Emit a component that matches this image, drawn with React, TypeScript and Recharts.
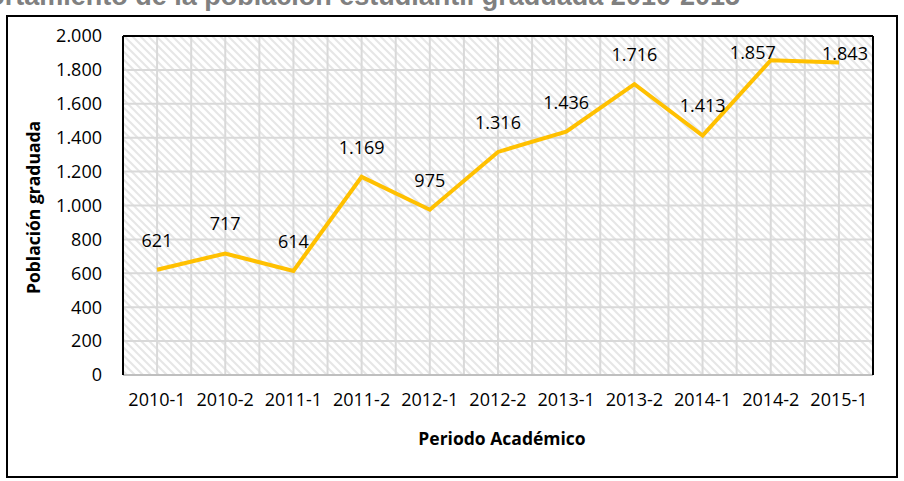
import { CartesianGrid, Line, LineChart, XAxis, YAxis } from "recharts";

const periods = [
  "2010-1",
  "2010-2",
  "2011-1",
  "2011-2",
  "2012-1",
  "2012-2",
  "2013-1",
  "2013-2",
  "2014-1",
  "2014-2",
  "2015-1",
];
const graduates = [621, 717, 614, 1169, 975, 1316, 1436, 1716, 1413, 1857, 1843];
const yTicks = [0, 200, 400, 600, 800, 1000, 1200, 1400, 1600, 1800, 2000];

const data = periods.map((period, i) => ({ period, graduates: graduates[i] }));

const FONT = "'Open Sans', sans-serif";

// 1169 -> "1.169"
const fmt = (v: number) => String(v).replace(/\B(?=(\d{3})+(?!\d))/g, ".");

// labels sit above the points; the two last ones are nudged like in the source
const labelShift: Record<number, { dx: number; dy: number }> = {
  9: { dx: -18, dy: -8 },
  10: { dx: 6, dy: -10 },
};

function PointLabel(props: any) {
  const { x, y, value, index } = props;
  const shift = labelShift[index] ?? { dx: 0, dy: -30 };
  return (
    <text
      x={x + shift.dx}
      y={y + shift.dy}
      textAnchor="middle"
      dominantBaseline="central"
      fontFamily={FONT}
      fontSize={18}
      fill="#000"
    >
      {fmt(value)}
    </text>
  );
}

function YTitle(props: any) {
  const { x, y, height } = props.viewBox;
  const cx = x + 33;
  const cy = y + height / 2 + 2;
  return (
    <text
      x={cx}
      y={cy}
      transform={`rotate(-90, ${cx}, ${cy})`}
      textAnchor="middle"
      dominantBaseline="central"
      fontFamily={FONT}
      fontWeight="bold"
      fontSize={17.5}
      fill="#000"
    >
      Población graduada
    </text>
  );
}

function XTitle(props: any) {
  const { x, y, width } = props.viewBox;
  return (
    <text
      x={x + width / 2 + 4}
      y={y + 63}
      textAnchor="middle"
      dominantBaseline="central"
      fontFamily={FONT}
      fontWeight="bold"
      fontSize={17.5}
      fill="#000"
    >
      Periodo Académico
    </text>
  );
}

export default function App() {
  const tickStyle = { fontFamily: FONT, fontSize: 18, fill: "#000" };

  return (
    <div
      style={{
        position: "absolute",
        left: 0,
        top: 0,
        width: 904,
        height: 481,
        overflow: "hidden",
        background: "#fff",
      }}
    >
      <svg
        width={904}
        height={481}
        style={{ position: "absolute", left: 0, top: 0 }}
      >
        {/* the source image cuts the title off at its top edge */}
        <text
          x={740}
          y={5}
          textAnchor="end"
          fontFamily="'Liberation Sans', Arial, sans-serif"
          fontWeight="bold"
          fontSize={27}
          fill="#808080"
        >
          Comportamiento de la población estudiantil graduada 2010-2015
        </text>
      </svg>
      <div
        style={{
          position: "absolute",
          left: 6,
          top: 15,
          width: 892,
          height: 463,
          border: "2px solid #000",
          boxSizing: "border-box",
        }}
      />
      <div style={{ position: "absolute", left: 0, top: 0 }}>
        <LineChart
          width={904}
          height={481}
          data={data}
          margin={{ top: 0, right: 0, bottom: 0, left: 0 }}
        >
          <defs>
            <pattern
              id="hatch"
              patternUnits="userSpaceOnUse"
              width={8}
              height={8}
            >
              <rect width={8} height={8} fill="#fff" />
              <path
                d="M-4,4 L4,12 M0,0 L8,8 M4,-4 L12,4"
                stroke="#e6e6e6"
                strokeWidth={2}
              />
            </pattern>
          </defs>
          <CartesianGrid
            fill="url(#hatch)"
            fillOpacity={1}
            stroke="#d9d9d9"
            strokeWidth={2}
            verticalCoordinatesGenerator={({ offset }: any) =>
              Array.from(
                { length: periods.length * 2 + 1 },
                (_, i) => offset.left + (i * offset.width) / (periods.length * 2)
              )
            }
          />
          <XAxis
            dataKey="period"
            height={106}
            padding={{ left: 34, right: 34 }}
            interval={0}
            tickLine={false}
            tickMargin={12}
            tick={tickStyle}
            axisLine={{ stroke: "#bfbfbf", strokeWidth: 2 }}
            label={<XTitle />}
          />
          <XAxis
            xAxisId="top"
            orientation="top"
            dataKey="period"
            height={36}
            padding={{ left: 34, right: 34 }}
            tick={false}
            tickLine={false}
            axisLine={{ stroke: "#000", strokeWidth: 2 }}
          />
          <YAxis
            width={123}
            domain={[0, 2000]}
            ticks={yTicks}
            interval={0}
            tickLine={false}
            tickMargin={15}
            tick={tickStyle}
            tickFormatter={fmt}
            axisLine={{ stroke: "#000", strokeWidth: 2 }}
            label={<YTitle />}
          />
          <YAxis
            yAxisId="right"
            orientation="right"
            width={31}
            domain={[0, 2000]}
            tick={false}
            tickLine={false}
            axisLine={{ stroke: "#000", strokeWidth: 2 }}
          />
          <Line
            type="linear"
            dataKey="graduates"
            stroke="#FFC000"
            strokeWidth={4}
            dot={false}
            label={<PointLabel />}
            isAnimationActive={false}
          />
        </LineChart>
      </div>
    </div>
  );
}
